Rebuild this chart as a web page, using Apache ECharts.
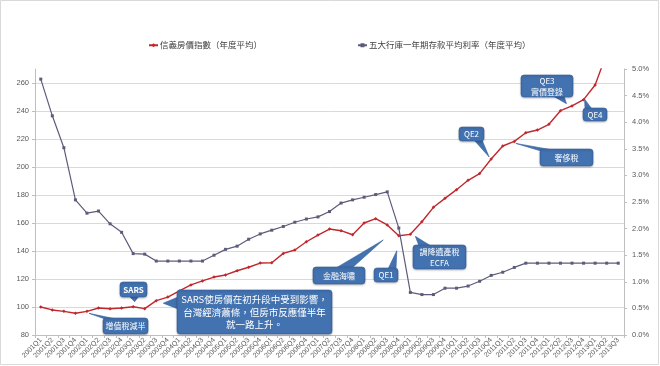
<!DOCTYPE html>
<html><head><meta charset="utf-8">
<script src="https://cdn.jsdelivr.net/npm/echarts@6/dist/echarts.min.js"></script>
<style>html,body{margin:0;padding:0;background:#fff}#c{width:660px;height:366px}</style>
</head><body><div id="c"></div>
<script>
const categories = ['2001Q1','2001Q2','2001Q3','2001Q4','2002Q1','2002Q2','2002Q3','2002Q4','2003Q1','2003Q2','2003Q3','2003Q4','2004Q1','2004Q2','2004Q3','2004Q4','2005Q1','2005Q2','2005Q3','2005Q4','2006Q1','2006Q2','2006Q3','2006Q4','2007Q1','2007Q2','2007Q3','2007Q4','2008Q1','2008Q2','2008Q3','2008Q4','2009Q1','2009Q2','2009Q3','2009Q4','2010Q1','2010Q2','2010Q3','2010Q4','2011Q1','2011Q2','2011Q3','2011Q4','2012Q1','2012Q2','2012Q3','2012Q4','2013Q1','2013Q2','2013Q3'];
const priceIndex = [100,97.9,96.9,95.5,96.9,99.3,98.8,99.3,100.2,98.8,104.5,107.1,111.5,115.8,118.6,121.4,122.9,125.9,128.4,131.4,131.6,138.3,140.7,146.6,151.4,155.7,154.5,151.6,160,163.1,158.6,150.9,151.9,160.9,171.2,177.6,183.8,190.5,195.3,205.7,215,218.3,224.5,226.4,230.5,240.2,243.6,248.1,258.6,281,null];
const depositRate = [4.81,4.12,3.52,2.54,2.29,2.33,2.09,1.93,1.53,1.52,1.39,1.39,1.39,1.39,1.39,1.50,1.61,1.67,1.80,1.90,1.97,2.04,2.12,2.18,2.22,2.32,2.48,2.54,2.59,2.64,2.69,2.01,0.80,0.76,0.76,0.88,0.88,0.92,1.01,1.12,1.18,1.27,1.35,1.35,1.35,1.35,1.35,1.35,1.35,1.35,1.35];
const seriesNames = ['信義房價指數（年度平均）','五大行庫一年期存款平均利率（年度平均）'];
// annotation callouts: text, box [x,y,w,h], tail base points, anchor [category index, series], tip offset
const notes = [
  {text:'SARS', box:[120,282,27,15], base:[[129,296],[139,296]], at:[8,0], off:[1.5,-5], size:8, bold:true},
  {text:'增值稅減半', box:[103,318,45,16], base:[[105,319],[116,319]], at:[4,0], off:[2,2], size:8},
  {text:'SARS使房價在初升段中受到影響，\n台灣經濟蕭條，但房市反應僅半年\n就一路上升。', box:[177,290,155,44], base:[[178,297],[178,309]], at:[10,0], off:[7,2.5], size:9.5},
  {text:'金融海嘯', box:[313,267,52,17], base:[[336,268],[352,268]], at:[30,0], off:[-4,15], size:8},
  {text:'QE1', box:[374,268,24,14], base:[[388,269],[396,269]], at:[31,0], off:[-2,15], size:8},
  {text:'調降遺產稅\nECFA', box:[413,245,53,24], base:[[419,246],[431,246]], at:[32,0], off:[5,2], size:8},
  {text:'QE2', box:[459,127,25,14], base:[[474,140],[482,140]], at:[39,0], off:[-2,-2], size:8},
  {text:'奢侈稅', box:[540,149,53,17], base:[[541,151],[553,150]], at:[41,0], off:[1.5,2], size:8},
  {text:'QE3\n實價登錄', box:[521,75,52,22], base:[[553,96],[564,96]], at:[45,0], off:[6,-7], size:8},
  {text:'QE4', box:[583,108,24,13], base:[[585,109],[592,109]], at:[47,0], off:[1,-0.5], size:8}
];

const chart = echarts.init(document.getElementById('c'), null, {renderer:'canvas'});
const numFont = '"Liberation Sans", "Noto Sans", sans-serif';
const cjkFont = '"Noto Sans CJK TC", "Noto Sans CJK SC", sans-serif';
const gridColors = [];
for (let i = 0; i < 10; i++) gridColors.push('#d9d9d9');
gridColors.push('rgba(0,0,0,0)');

chart.setOption({
  animation: false,
  backgroundColor: '#fff',
  legend: {
    top: 36, left: 143, itemGap: 95, itemWidth: 9, itemHeight: 5,
    textStyle: {fontSize: 8.5, color: '#404040', fontFamily: cjkFont, padding:[0,0,0,-3]},
    data: seriesNames
  },
  grid: {left: 35, right: 36, top: 69, bottom: 31},
  xAxis: {
    type: 'category', data: categories, boundaryGap: true,
    axisLine: {lineStyle: {color: '#bfbfbf'}},
    axisTick: {show: true, alignWithLabel: false, length: 3, lineStyle:{color:'#bfbfbf'}},
    axisLabel: {interval: 0, rotate: 45, fontSize: 7, color: '#595959', fontFamily: numFont, margin: 4}
  },
  yAxis: [
    {type: 'value', min: 80, max: 270, interval: 20,
     axisLine: {show: true, lineStyle: {color: '#bfbfbf'}},
     axisTick: {show: true, length: 3, lineStyle:{color:'#bfbfbf'}},
     axisLabel: {fontSize: 7.5, color: '#595959', fontFamily: numFont, margin: 6, showMaxLabel: false,
       formatter: v => (v === 270 ? '' : v)},
     splitLine: {show: true, lineStyle: {color: gridColors, width: 1}}
    },
    {type: 'value', min: 0, max: 5, interval: 0.5, position: 'right',
     axisLine: {show: true, lineStyle: {color: '#bfbfbf'}},
     axisTick: {show: true, length: 3, lineStyle:{color:'#bfbfbf'}},
     axisLabel: {fontSize: 7.5, color: '#595959', fontFamily: numFont, margin: 8,
       formatter: v => v.toFixed(1) + '%'},
     splitLine: {show: false}
    }
  ],
  series: [
    {name: seriesNames[0], type: 'line', yAxisIndex: 0, data: priceIndex,
     symbol: 'diamond', symbolSize: 3.5, showSymbol: true, clip: true,
     lineStyle: {color: '#c0282d', width: 1.4}, itemStyle: {color: '#c0282d'}},
    {name: seriesNames[1], type: 'line', yAxisIndex: 1, data: depositRate,
     symbol: 'rect', symbolSize: 3, showSymbol: true,
     lineStyle: {color: '#5c5c7a', width: 1.2}, itemStyle: {color: '#5c5c7a'}}
  ]
});

const seriesData = [priceIndex, depositRate];
const elements = [{type:'rect', shape:{x:0.5,y:0.5,width:658,height:364}, style:{fill:'none', stroke:'#d9d9d9', lineWidth:1}, silent:true}];
notes.forEach(n => {
  const idx = n.at[0], s = n.at[1];
  const p = chart.convertToPixel({yAxisIndex: s === 0 ? 0 : 1, xAxisIndex: 0}, [idx, seriesData[s][idx]]);
  const tip = [p[0] + n.off[0], p[1] + n.off[1]];
  const [bx, by, bw, bh] = n.box;
  elements.push({type:'polygon', z: 100, shape:{points:[n.base[0], tip, n.base[1]]}, style:{fill:'#4372b0', stroke:'#35609a', lineWidth:0.6}});
  elements.push({type:'rect', z: 101, shape:{x:bx, y:by, width:bw, height:bh, r:3}, style:{fill:'#4372b0', stroke:'#35609a', lineWidth:0.6, shadowBlur:2, shadowColor:'rgba(0,0,0,0.25)', shadowOffsetY:1}});
  elements.push({type:'text', z: 102, x: bx + bw/2, y: by + bh/2, style:{text:n.text, fill:'#fff', fontSize:n.size, fontWeight: n.bold ? 'bold' : 'normal', fontFamily: cjkFont, align:'center', verticalAlign:'middle', lineHeight: n.size + 3}});
});
chart.setOption({graphic: {elements}});
</script>
</body></html>
